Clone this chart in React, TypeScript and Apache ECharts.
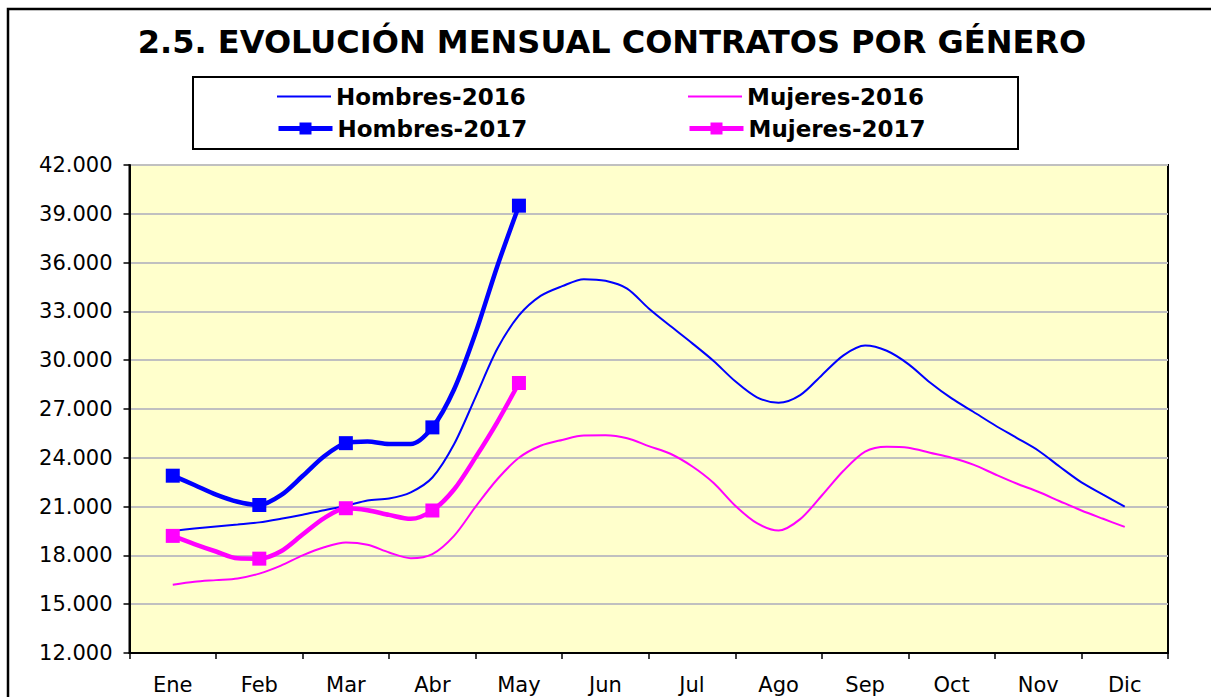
import React, { useEffect, useRef } from "react";
import * as echarts from "echarts";

const TITLE = "2.5. EVOLUCIÓN MENSUAL CONTRATOS POR GÉNERO";
const MONTHS = ["Ene", "Feb", "Mar", "Abr", "May", "Jun", "Jul", "Ago", "Sep", "Oct", "Nov", "Dic"];
const Y_MIN = 12000;
const Y_MAX = 42000;
const Y_STEP = 3000;
// samples every quarter of a month, first sample at the centre of "Ene"
const SAMPLES_PER_MONTH = 4;

const HOMBRES_2016 = [
  19500, 19650, 19780, 19900, 20030, 20250, 20500, 20780, 21040, 21380, 21500, 21880,
  22790, 24830, 27750, 30700, 32750, 33950, 34550, 34980, 34880, 34400, 33180, 32100,
  31050, 29950, 28700, 27720, 27380, 27850, 29080, 30300, 30900, 30580, 29760, 28630,
  27650, 26830, 26000, 25230, 24450, 23450, 22490, 21740, 21000,
];
const MUJERES_2016 = [
  16200, 16380, 16480, 16580, 16880, 17370, 18000, 18500, 18800, 18660, 18180, 17830,
  18080, 19200, 21000, 22680, 24000, 24740, 25100, 25370, 25380, 25200, 24720, 24250,
  23480, 22450, 21050, 19980, 19530, 20230, 21680, 23200, 24380, 24680, 24620, 24310,
  24000, 23580, 22990, 22420, 21910, 21330, 20760, 20250, 19750,
];
const HOMBRES_2017 = [
  22900, 22330, 21740, 21300, 21100, 21700, 22880, 24100, 24900, 25000, 24850, 24850,
  25870, 28200, 31700, 35780, 39500,
];
const MUJERES_2017 = [
  19200, 18700, 18240, 17820, 17800, 18250, 19280, 20290, 20900, 20780, 20490, 20250,
  20760, 22050, 24040, 26200, 28600,
];

const BLUE = "#0000FF";
const MAGENTA = "#FF00FF";
const FONT = "DejaVu Sans";

const pos = (k: number) => 0.5 + k / SAMPLES_PER_MONTH;

const fmt = (v: number) => String(v).replace(/\B(?=(\d{3})+(?!\d))/g, ".");

function thinSeries(name: string, values: number[], color: string) {
  return {
    name,
    type: "line",
    xAxisIndex: 1,
    yAxisIndex: 0,
    smooth: 0.3,
    symbol: "none",
    lineStyle: { color, width: 2 },
    itemStyle: { color },
    data: values.map((v, k) => [pos(k), v]),
    z: 2,
  };
}

function thickSeries(name: string, values: number[], color: string) {
  return {
    name,
    type: "line",
    xAxisIndex: 1,
    yAxisIndex: 0,
    smooth: 0.3,
    symbol: "rect",
    symbolSize: 14,
    showSymbol: true,
    lineStyle: { color, width: 4.5 },
    itemStyle: { color },
    data: values.map((v, k) => ({
      value: [pos(k), v],
      symbol: k % SAMPLES_PER_MONTH === 0 ? "rect" : "none",
    })),
    z: 3,
  };
}

function legendFor(name: string, left: number, top: number, thick: boolean) {
  return {
    data: [name],
    left,
    top,
    orient: "horizontal",
    padding: 0,
    itemWidth: 54,
    itemHeight: 15,
    selectedMode: false,
    textStyle: { fontFamily: FONT, fontSize: 23, fontWeight: "bold", color: "#000" },
    lineStyle: { width: thick ? 5 : 2 },
    itemStyle: thick ? {} : { opacity: 0 },
  };
}

export default function App() {
  const ref = useRef<HTMLDivElement>(null);
  useEffect(() => {
    if (!ref.current) return;
    const chart = echarts.init(ref.current, null, { renderer: "svg" });
    chart.setOption({
      animation: false,
      backgroundColor: "#ffffff",
      graphic: [
        {
          type: "rect",
          shape: { x: 8, y: 9, width: 1215, height: 700 },
          style: { fill: "none", stroke: "#000", lineWidth: 2.5 },
          z: -1,
        },
        {
          type: "text",
          x: 612,
          y: 42,
          style: {
            text: TITLE,
            fill: "#000",
            fontFamily: FONT,
            fontSize: 32,
            fontWeight: "bold",
            align: "center",
            verticalAlign: "middle",
          },
        },
        {
          type: "rect",
          shape: { x: 193, y: 77, width: 825, height: 72 },
          style: { fill: "#fff", stroke: "#000", lineWidth: 2 },
          z: 1,
        },
      ],
      legend: [
        legendFor("Hombres-2016", 276, 85, false),
        legendFor("Mujeres-2016", 687, 85, false),
        legendFor("Hombres-2017", 276, 117, true),
        legendFor("Mujeres-2017", 687, 117, true),
      ],
      grid: {
        left: 129.5,
        right: 43,
        top: 165,
        bottom: 44,
        show: true,
        backgroundColor: "#FFFFCC",
        borderColor: "#000",
        borderWidth: 2,
        containLabel: false,
        outerBoundsMode: "none",
      },
      xAxis: [
        {
          type: "category",
          data: MONTHS,
          boundaryGap: true,
          axisLine: { lineStyle: { color: "#000", width: 2 } },
          axisTick: { show: true, length: 6, lineStyle: { color: "#000", width: 1.5 } },
          axisLabel: { margin: 21, fontFamily: FONT, fontSize: 21, color: "#000", interval: 0 },
          splitLine: { show: false },
        },
        {
          type: "value",
          min: 0,
          max: MONTHS.length,
          show: false,
          splitLine: { show: false },
        },
      ],
      yAxis: {
        type: "value",
        min: Y_MIN,
        max: Y_MAX,
        interval: Y_STEP,
        axisLine: { show: true, lineStyle: { color: "#000", width: 2 } },
        axisTick: { show: true, length: 6, lineStyle: { color: "#000", width: 1.5 } },
        axisLabel: {
          margin: 17,
          fontFamily: FONT,
          fontSize: 21,
          color: "#000",
          formatter: (v: number) => fmt(v),
        },
        splitLine: { show: true, lineStyle: { color: "#C0C0C0", width: 2 } },
      },
      series: [
        thinSeries("Hombres-2016", HOMBRES_2016, BLUE),
        thinSeries("Mujeres-2016", MUJERES_2016, MAGENTA),
        thickSeries("Hombres-2017", HOMBRES_2017, BLUE),
        thickSeries("Mujeres-2017", MUJERES_2017, MAGENTA),
      ],
    });
    return () => chart.dispose();
  }, []);
  return (
    <div
      ref={ref}
      style={{ position: "absolute", left: 0, top: 0, width: 1211, height: 697 }}
    />
  );
}
